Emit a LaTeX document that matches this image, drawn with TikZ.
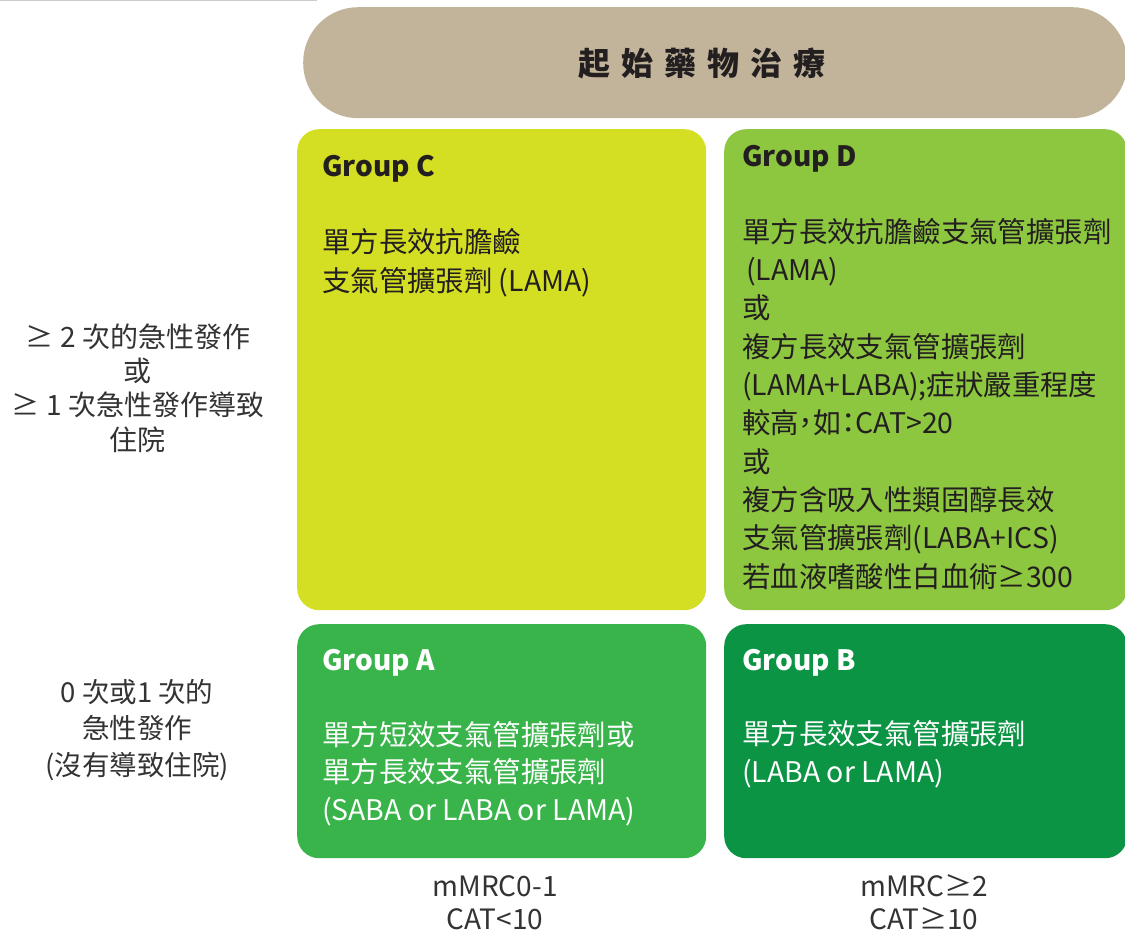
\documentclass[tikz,border=0pt]{standalone}
\usepackage{fontspec}
\setmainfont{Noto Sans CJK TC}
\newfontfamily\cjkhalt[RawFeature=+halt]{Noto Sans CJK TC}
\definecolor{pillc}{HTML}{C2B49A}
\definecolor{grpC}{HTML}{D4DF23}
\definecolor{grpD}{HTML}{8DC63F}
\definecolor{grpA}{HTML}{39B44A}
\definecolor{grpB}{HTML}{0B9444}
\definecolor{ink}{HTML}{231F20}
\definecolor{labelgray}{HTML}{333333}
\definecolor{rulegray}{HTML}{CCCCCC}
\tikzset{
  panel/.style={rectangle, rounded corners=22pt, draw=none, inner sep=0pt, anchor=north west},
  grouptitle/.style={inner sep=0pt, anchor=base west, font=\fontsize{28}{34}\selectfont\bfseries},
  bodytext/.style={inner sep=0pt, anchor=base west, align=left, font=\fontsize{28.4}{38.3}\selectfont},
  sidelabel/.style={inner sep=0pt, anchor=base, align=center, text=labelgray},
  axislabel/.style={inner sep=0pt, anchor=base, align=center, text=labelgray, font=\fontsize{28}{33}\selectfont},
}
\begin{document}
\begin{tikzpicture}[x=1pt,y=-1pt]
\useasboundingbox (0,0) rectangle (1125,936);
\fill[white] (0,0) rectangle (1125,936);
\draw[rulegray, line width=1.5pt] (0,0.75) -- (317,0.75);

% header pill
\node[panel, rounded corners=55pt, fill=pillc, minimum width=824pt, minimum height=111pt] (pill) at (303,7) {};
\node[inner sep=0pt, anchor=base, text=ink, font=\fontsize{32}{36}\selectfont\bfseries] (head) at (702,76)
  {起\hspace{11pt}始\hspace{11pt}藥\hspace{11pt}物\hspace{11pt}治\hspace{11pt}療};

% panels
\node[panel, fill=grpC, minimum width=409pt, minimum height=481pt] (C) at (297,129) {};
\node[panel, fill=grpD, minimum width=403pt, minimum height=481pt] (D) at (724,129) {};
\node[panel, fill=grpA, minimum width=409pt, minimum height=234pt] (A) at (297,624) {};
\node[panel, fill=grpB, minimum width=403pt, minimum height=234pt] (B) at (724,624) {};

% Group C (multi-line nodes: base = baseline of last line)
\node[grouptitle, text=ink] (tC) at (322,177) {Group C};
\node[bodytext, text=ink] (bC) at (322,291) {單方長效抗膽鹼\\支氣管擴張劑 (LAMA)};

% Group D
\node[grouptitle, text=ink] (tD) at (742,167) {Group D};
\node[bodytext, text=ink] (bD) at (742,587) {單方長效抗膽鹼支氣管擴張劑\\
\hspace{4pt}(LAMA)\\
或\\
複方長效支氣管擴張劑\\
(LAMA+LABA);症狀嚴重程度\\
較高{\cjkhalt ，}如{\cjkhalt ：}CAT>20\\
或\\
複方含吸入性類固醇長效\\
支氣管擴張劑(LABA+ICS)\\
若血液嗜酸性白血術≥300};

% Group A
\node[grouptitle, text=white] (tA) at (322,670) {Group A};
\node[bodytext, text=white, font=\fontsize{28.4}{37.5}\selectfont] (bA) at (322,820) {單方短效支氣管擴張劑或\\單方長效支氣管擴張劑\\(SABA or LABA or LAMA)};

% Group B
\node[grouptitle, text=white] (tB) at (742,670) {Group B};
\node[bodytext, text=white, font=\fontsize{28.4}{37.5}\selectfont] (bB) at (742,782) {單方長效支氣管擴張劑\\(LABA or LAMA)};

% side labels
\node[sidelabel, font=\fontsize{28}{34.3}\selectfont] (rowhigh) at (138,450) {≥ 2 次的急性發作\\或\\≥ 1 次急性發作導致\\住院};
\node[sidelabel, font=\fontsize{27.5}{36.5}\selectfont] (rowlow) at (137,775) {0 次或1 次的\\急性發作\\(沒有導致住院)};

% bottom labels
\node[axislabel] (collow) at (495,929) {mMRC0-1\\CAT<10};
\node[axislabel] (colhigh) at (924,929) {mMRC≥2\\CAT≥10};
\end{tikzpicture}
\end{document}
